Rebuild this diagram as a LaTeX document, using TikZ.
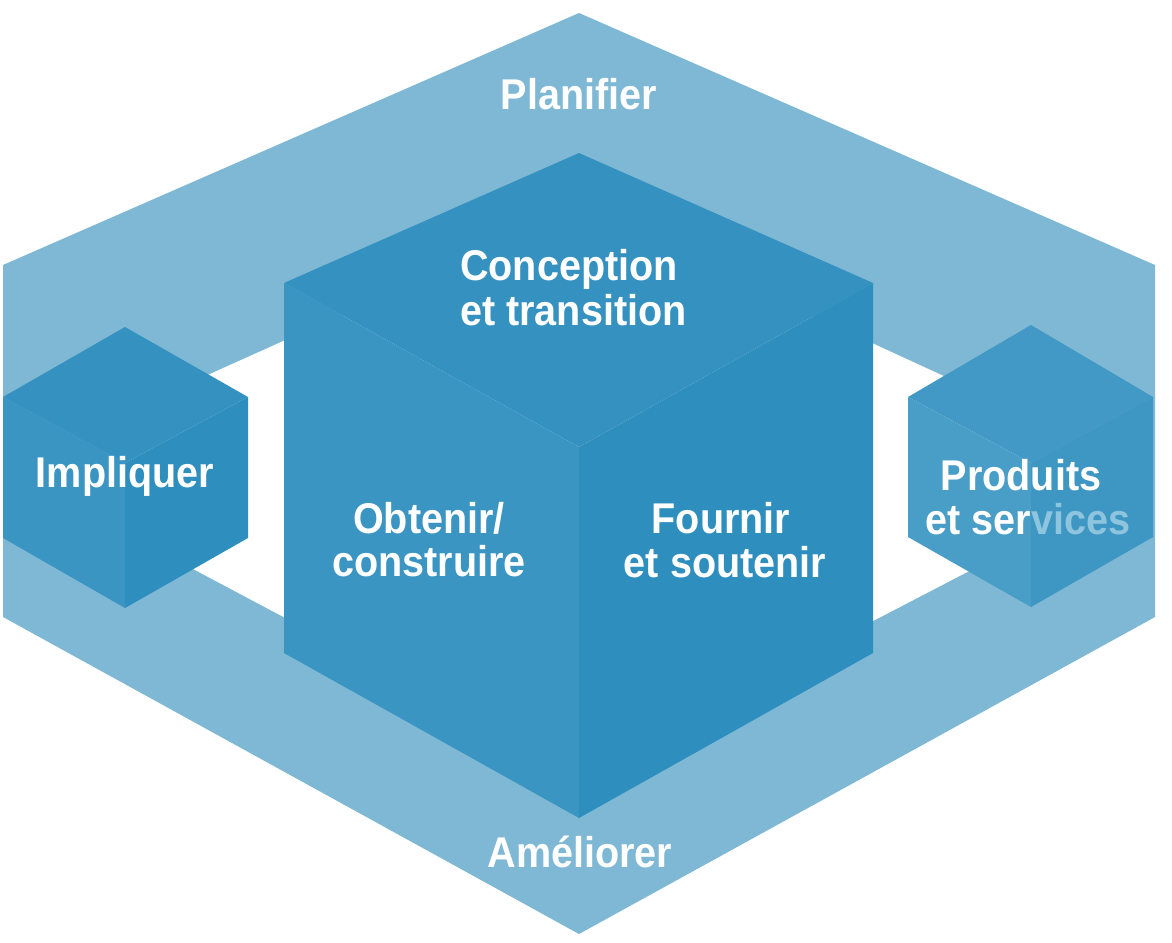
\documentclass[tikz,border=0pt]{standalone}
\usepackage{fontspec}
\setmainfont{Liberation Sans}[FakeStretch=0.92]
\definecolor{ringc}{HTML}{7EB8D5}
\definecolor{ctop}{HTML}{3592C0}
\definecolor{cleft}{HTML}{3A95C2}
\definecolor{cright}{HTML}{2E8FBE}
\definecolor{ptop}{HTML}{4299C5}
\definecolor{pleft}{HTML}{499EC8}
\definecolor{pright}{HTML}{3E97C3}
\definecolor{fadec}{HTML}{8EC4DE}
\begin{document}
\begin{tikzpicture}[x=1pt,y=-1pt,
  lbl/.style={text=white, font=\fontsize{43}{44}\selectfont\bfseries, inner sep=0pt, anchor=base}]
\useasboundingbox (0,0) rectangle (1172,942);
% ring
\fill[ringc, even odd rule]
  (579,13) -- (3,265) -- (3,617) -- (579,934) -- (1155,617) -- (1155,265) -- cycle
  (579,208) -- (125,412) -- (125,533) -- (579,774) -- (1033,538) -- (1033,417) -- cycle;
% Impliquer cube
\fill[ctop]   (125,327) -- (248,397) -- (125,463) -- (3,397) -- cycle;
\fill[cleft]  (3,397) -- (125,463) -- (125,608) -- (3,538) -- cycle;
\fill[cright] (125,463) -- (248,397) -- (248,538) -- (125,608) -- cycle;
% central cube
\fill[ctop]   (579,153) -- (873,283) -- (579,447) -- (284,283) -- cycle;
\fill[cleft]  (284,283) -- (579,447) -- (579,818) -- (284,653) -- cycle;
\fill[cright] (579,447) -- (873,283) -- (873,653) -- (579,818) -- cycle;
% Produits cube
\fill[ptop]   (1031,325) -- (1153,397) -- (1031,463) -- (908,397) -- cycle;
\fill[pleft]  (908,397) -- (1031,463) -- (1031,607) -- (908,537) -- cycle;
\fill[pright] (1031,463) -- (1153,397) -- (1153,537) -- (1031,607) -- cycle;
% labels
\node[lbl] (plan) at (579,109) {Planifier};
\node[lbl] (amel) at (580,867) {Améliorer};
\node[lbl] (impl) at (125,487) {Impliquer};
\node[lbl, anchor=base west] (conc1) at (460,280) {Conception};
\node[lbl, anchor=base west] (conc2) at (460,325) {et transition};
\node[lbl] (obt1) at (429,533) {Obtenir/};
\node[lbl] (obt2) at (429,576) {construire};
\node[lbl] (four1) at (721,533) {Fournir};
\node[lbl] (four2) at (725,577) {et soutenir};
\node[lbl] (prod1) at (1021,490) {Produits};
\node[lbl] (prod2) at (1028,534) {et ser{\color{fadec}vices}};
\end{tikzpicture}
\end{document}
